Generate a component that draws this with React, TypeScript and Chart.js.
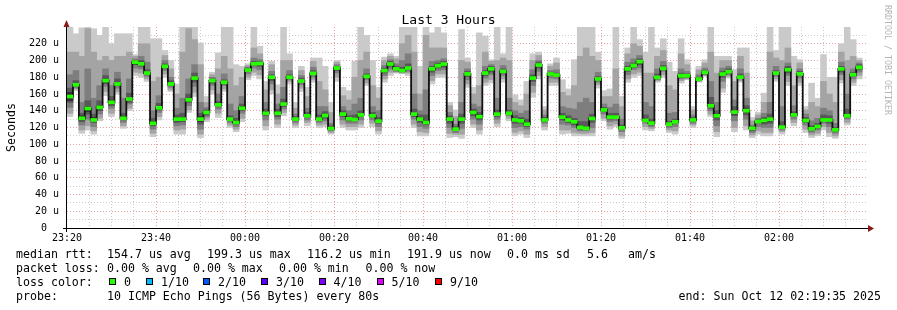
import React, { useEffect, useRef } from 'react';
import { Chart, registerables } from 'chart.js';

Chart.register(...registerables);

// ---- data (80 s steps starting 23:20, values in microseconds) ----
const median = [
  157, 171, 131, 142.7, 129, 144, 176, 150, 172, 131,
  154, 198, 196, 185, 125, 143.5, 193, 172, 130, 130,
  153, 179, 130, 138, 176, 147, 174, 130, 126, 143,
  188.6, 196, 196.5, 137, 180, 137, 148, 180, 130, 175.5,
  134, 184.6, 130, 134.3, 118.8, 191, 136, 130.4, 129.6, 135,
  181, 134, 127.6, 188, 195.8, 190, 188, 191, 136, 130,
  126, 190, 193.8, 195.8, 130, 118, 130, 184, 138, 133,
  185, 190, 136, 187, 137, 129, 128, 124, 179, 194.6,
  129, 183.9, 182.6, 132.4, 129, 126.8, 120, 119, 130.7, 178,
  141, 132.4, 132.4, 119.6, 190, 194, 198.6, 128.4, 125.2, 179.8,
  190.6, 124, 126.8, 181.8, 181.8, 129, 177.8, 185.8, 146, 134,
  183.8, 186.6, 138.4, 180.2, 140, 119, 127, 128.4, 130, 185,
  120.4, 189, 135, 184, 128.4, 118.4, 121.2, 129, 129, 117.2,
  190, 134, 183, 191.7,
];

// sorted ping RTTs per step (ping1 = fastest ... ping10 = slowest)
const ping1 = [
  133, 164, 113, 117, 112, 128, 158, 133, 160, 119,
  140, 182, 180, 175, 109, 129, 180, 163, 112, 112,
  138, 157, 108, 127, 160, 132, 163, 120, 115, 127,
  177, 182, 178, 117, 160, 120, 134, 172, 120, 163,
  122, 174, 120, 121, 112, 175, 120, 117, 117, 120,
  170, 121, 112, 174, 182, 185, 184, 182, 120, 110,
  110, 172, 180, 180, 108, 109, 107, 168, 120, 112,
  170, 173, 121, 174, 128, 110, 112, 108, 156, 178,
  117, 170, 170, 112, 113, 110, 110, 110, 110, 167,
  128, 118, 121, 107, 174, 180, 182, 117, 116, 174,
  180, 114, 112, 173, 177, 120, 174, 181, 133, 109,
  162, 179, 115, 174, 117, 108, 112, 110, 110, 175,
  112, 170, 122, 170, 114, 108, 110, 117, 109, 107,
  173, 123, 170, 178,
];
const ping2 = [
  137, 166, 117, 122, 116, 131, 163, 137, 163, 122,
  143, 186, 185, 178, 113, 133, 184, 165, 117, 118,
  141, 162, 112, 130, 165, 137, 166, 123, 118, 131,
  180, 186, 183, 122, 165, 124, 138, 175, 123, 167,
  126, 177, 123, 124, 114, 180, 124, 121, 121, 124,
  173, 125, 116, 178, 186, 186, 185, 185, 124, 115,
  114, 176, 184, 184, 113, 112, 112, 172, 124, 117,
  174, 177, 125, 178, 131, 114, 116, 112, 162, 182,
  121, 174, 174, 117, 117, 114, 113, 113, 114, 171,
  131, 122, 124, 110, 178, 184, 186, 121, 119, 176,
  183, 117, 116, 176, 178, 123, 175, 182, 136, 115,
  167, 181, 120, 176, 122, 111, 116, 114, 114, 178,
  115, 175, 126, 174, 118, 111, 113, 121, 114, 110,
  177, 126, 174, 182,
];
const ping3 = [
  144, 167, 123, 130, 121, 136, 169, 143, 167, 126,
  148, 191, 190, 181, 118, 138, 188, 168, 122, 123,
  146, 169, 118, 133, 170, 142, 170, 126, 121, 137,
  184, 191, 189, 129, 172, 130, 142, 177, 126, 171,
  129, 180, 126, 128, 116, 185, 129, 125, 125, 129,
  177, 129, 121, 182, 190, 187, 186, 187, 130, 121,
  119, 182, 188, 189, 120, 114, 119, 177, 130, 124,
  179, 183, 130, 182, 134, 120, 121, 118, 170, 187,
  125, 179, 178, 124, 123, 120, 116, 116, 120, 174,
  136, 127, 128, 115, 183, 189, 191, 125, 121, 177,
  187, 120, 121, 178, 179, 125, 176, 183, 140, 122,
  175, 183, 128, 178, 130, 114, 121, 120, 120, 181,
  117, 182, 130, 179, 123, 114, 117, 125, 121, 113,
  183, 130, 178, 186,
];
const ping4 = [
  150, 169, 127, 136, 126, 140, 172, 146, 170, 129,
  150, 195, 193, 183, 122, 141, 191, 170, 126, 127,
  150, 174, 124, 135, 173, 145, 172, 128, 124, 140,
  187, 194, 193, 134, 176, 133, 145, 178, 128, 174,
  132, 183, 128, 131, 117, 188, 133, 128, 128, 133,
  179, 132, 125, 185, 193, 188, 187, 189, 133, 126,
  123, 186, 191, 192, 125, 116, 125, 181, 134, 129,
  182, 186, 133, 185, 136, 125, 125, 121, 175, 191,
  127, 182, 181, 129, 126, 123, 118, 118, 126, 176,
  139, 130, 131, 118, 187, 192, 195, 127, 123, 178,
  189, 122, 125, 180, 180, 127, 177, 184, 143, 129,
  180, 185, 134, 179, 135, 116, 125, 124, 125, 183,
  119, 185, 133, 182, 126, 116, 119, 127, 125, 115,
  186, 132, 181, 189,
];
const ping5 = [
  152, 170, 129, 139, 128, 142, 174, 148, 171, 130,
  152, 196, 195, 184, 124, 142, 192, 171, 128, 128,
  151, 177, 127, 137, 175, 146, 173, 129, 125, 142,
  188, 195, 195, 136, 178, 135, 146, 179, 129, 175,
  133, 184, 129, 133, 118, 190, 135, 129, 129, 134,
  180, 133, 126, 187, 194, 189, 188, 190, 135, 128,
  125, 188, 193, 194, 128, 117, 128, 183, 136, 131,
  184, 188, 135, 186, 137, 127, 127, 123, 177, 193,
  128, 183, 182, 131, 128, 125, 119, 119, 129, 177,
  140, 131, 132, 119, 189, 193, 197, 128, 124, 179,
  190, 123, 126, 181, 181, 128, 177, 185, 145, 132,
  182, 186, 136, 180, 138, 118, 126, 126, 128, 184,
  120, 187, 134, 183, 127, 118, 120, 128, 127, 116,
  188, 133, 182, 190,
];
const ping6 = [
  162, 172, 134, 145, 132, 146, 178, 152, 174, 133,
  156, 199, 198, 186, 127, 145, 194, 174, 132, 132,
  155, 181, 133, 139, 177, 148, 175, 131, 128, 145,
  190, 197, 198, 139, 181, 139, 150, 181, 131, 177,
  135, 186, 131, 136, 120, 192, 137, 132, 131, 136,
  182, 135, 129, 189, 197, 191, 189, 192, 137, 132,
  128, 191, 195, 197, 131, 119, 132, 185, 140, 135,
  186, 191, 138, 188, 138, 131, 130, 126, 181, 196,
  130, 185, 184, 134, 131, 128, 121, 120, 132, 179,
  142, 134, 134, 121, 191, 195, 200, 130, 126, 181,
  192, 125, 128, 183, 183, 130, 179, 187, 148, 136,
  185, 188, 140, 182, 142, 120, 128, 130, 132, 186,
  121, 191, 136, 185, 130, 120, 122, 131, 131, 118,
  191, 135, 184, 193,
];
const ping7 = [
  167, 176, 137, 152, 136, 152, 182, 157, 178, 137,
  161, 200, 200, 189, 131, 149, 196, 176, 135, 137,
  160, 185, 137, 141, 178, 151, 177, 134, 131, 148,
  191, 199, 199, 142, 183, 142, 154, 183, 133, 179,
  138, 188, 135, 139, 122, 193, 140, 134, 135, 140,
  184, 138, 132, 191, 199, 193, 192, 196, 142, 135,
  135, 193, 197, 199, 134, 121, 136, 187, 142, 138,
  188, 193, 141, 190, 141, 134, 132, 130, 183, 198,
  132, 186, 185, 137, 134, 131, 127, 127, 136, 181,
  144, 137, 137, 123, 193, 197, 202, 135, 130, 184,
  194, 127, 130, 185, 184, 132, 180, 188, 156, 140,
  187, 190, 145, 184, 146, 121, 129, 132, 136, 188,
  127, 193, 139, 187, 132, 122, 125, 135, 134, 120,
  193, 142, 186, 195,
];
const ping8 = [
  183, 188, 150, 190, 155, 170, 190, 170, 186, 155,
  178, 202, 205, 198, 140, 158, 200, 180, 143, 155,
  178, 195, 150, 144, 180, 160, 184, 148, 140, 157,
  192, 203, 201, 150, 187, 148, 168, 188, 136, 182,
  143, 192, 145, 145, 125, 195, 145, 140, 148, 155,
  190, 145, 140, 194, 201, 196, 200, 208, 160, 140,
  165, 199, 200, 202, 138, 124, 150, 190, 148, 145,
  193, 195, 155, 194, 155, 140, 137, 140, 189, 200,
  135, 188, 189, 145, 143, 142, 150, 155, 150, 186,
  148, 144, 148, 130, 198, 202, 206, 150, 145, 190,
  199, 137, 138, 190, 187, 135, 183, 191, 175, 150,
  191, 193, 153, 190, 155, 123, 131, 137, 150, 193,
  145, 197, 146, 190, 136, 128, 131, 143, 140, 125,
  198, 160, 190, 197,
];
const ping9 = [
  210, 210, 205, 238, 210, 200, 205, 200, 205, 205,
  210, 205, 220, 220, 175, 180, 206, 190, 160, 210,
  238, 225, 195, 150, 183, 190, 205, 190, 170, 180,
  194, 215, 208, 165, 195, 160, 200, 200, 143, 188,
  157, 199, 175, 165, 138, 198, 158, 153, 180, 200,
  210, 170, 155, 200, 205, 202, 220, 230, 210, 160,
  230, 215, 215, 215, 146, 133, 200, 198, 160, 170,
  210, 199, 200, 203, 200, 150, 146, 160, 200, 206,
  141, 193, 197, 162, 158, 170, 205, 215, 205, 200,
  157, 157, 190, 145, 208, 220, 217, 185, 185, 205,
  212, 170, 165, 208, 195, 141, 189, 197, 210, 185,
  200, 200, 175, 205, 185, 128, 135, 150, 210, 203,
  200, 215, 170, 197, 141, 150, 145, 175, 160, 150,
  210, 200, 205, 200,
];
const ping10 = [
  240, 232, 239, 240, 238, 230, 240, 220, 232, 232,
  232, 207, 240, 240, 226, 226, 212, 200, 172, 240,
  240, 240, 221, 157, 186, 209, 240, 240, 195, 193,
  196, 240, 217, 175, 199, 171, 240, 208, 150, 193,
  168, 203, 203, 193, 150, 200, 168, 164, 199, 240,
  230, 200, 168, 204, 208, 205, 240, 240, 240, 193,
  240, 233, 240, 233, 150, 141, 237, 203, 168, 233,
  229, 201, 240, 208, 240, 159, 153, 175, 208, 210,
  145, 196, 203, 177, 166, 201, 240, 240, 240, 210,
  164, 166, 240, 157, 215, 240, 225, 210, 240, 215,
  226, 198, 187, 226, 201, 145, 193, 201, 240, 205,
  205, 205, 189, 215, 215, 132, 138, 161, 240, 212,
  240, 240, 205, 201, 145, 173, 155, 207, 180, 180,
  220, 240, 225, 203,
];

const timeTicks = ['23:20', '23:40', '00:00', '00:20', '00:40', '01:00', '01:20', '01:40', '02:00'];
const lossLabels = ['0', '1/10', '2/10', '3/10', '4/10', '5/10', '9/10'];
const lossColors = ['#26ff00', '#00b8ff', '#0059ff', '#5e00ff', '#7e00ff', '#dd00ff', '#ff0000'];
const smokeColors = ['#cacaca', '#a4a4a4', '#7e7e7e', '#585858', '#323232'];

const STEP_MIN = 80 / 60; // minutes per sample
const SPAN_MIN = 180;
const MONO = '"DejaVu Sans Mono", monospace';

const GRID_MINOR = 'rgba(140,140,140,0.45)';
const GRID_MAJOR = 'rgba(215,40,40,0.45)';
const NONE = 'rgba(0,0,0,0)';

const decorPlugin = {
  id: 'decor',
  afterDraw(chart: any) {
    const ctx = chart.ctx as CanvasRenderingContext2D;
    const a = chart.chartArea;
    ctx.save();
    // axes
    ctx.strokeStyle = '#000';
    ctx.lineWidth = 1;
    ctx.beginPath();
    ctx.moveTo(a.left - 4, a.bottom + 0.5);
    ctx.lineTo(a.right + 1, a.bottom + 0.5);
    ctx.moveTo(a.left - 0.5, a.bottom + 4);
    ctx.lineTo(a.left - 0.5, a.top - 1);
    ctx.stroke();
    // arrows
    ctx.fillStyle = '#8b1a1a';
    ctx.beginPath();
    ctx.moveTo(a.right, a.bottom - 3);
    ctx.lineTo(a.right + 6, a.bottom + 0.5);
    ctx.lineTo(a.right, a.bottom + 4);
    ctx.closePath();
    ctx.fill();
    ctx.beginPath();
    ctx.moveTo(a.left - 3.5, a.top);
    ctx.lineTo(a.left - 0.5, a.top - 7);
    ctx.lineTo(a.left + 2.5, a.top);
    ctx.closePath();
    ctx.fill();

    ctx.fillStyle = '#000';
    // title
    ctx.font = `13px ${MONO}`;
    ctx.textAlign = 'center';
    ctx.textBaseline = 'alphabetic';
    ctx.fillText('Last 3 Hours', 448.5, 24);

    // y axis title
    ctx.save();
    ctx.translate(15, 127.5);
    ctx.rotate(-Math.PI / 2);
    ctx.font = `11.6px ${MONO}`;
    ctx.textAlign = 'center';
    ctx.fillText('Seconds', 0, 0);
    ctx.restore();

    // watermark
    ctx.save();
    ctx.translate(885, 5);
    ctx.rotate(Math.PI / 2);
    ctx.font = `8.3px ${MONO}`;
    ctx.fillStyle = '#b4b4b4';
    ctx.textAlign = 'left';
    ctx.fillText('RRDTOOL / TOBI OETIKER', 0, 0);
    ctx.restore();

    // legend
    ctx.font = `11.6px ${MONO}`;
    ctx.textAlign = 'left';
    ctx.fillStyle = '#000';
    const row = (y: number, items: [number, string][]) => {
      for (const [x, t] of items) ctx.fillText(t, x, y);
    };
    row(258, [
      [16, 'median rtt:'], [107, '154.7 us avg'], [207, '199.3 us max'],
      [307, '116.2 us min'], [407, '191.9 us now'], [507, '0.0 ms sd'],
      [587, '5.6'], [628, 'am/s'],
    ]);
    row(272, [
      [16, 'packet loss:'], [107, '0.00 % avg'], [193, '0.00 % max'],
      [279, '0.00 % min'], [365.5, '0.00 % now'],
    ]);
    row(286, [[16, 'loss color:']]);
    const boxX = [109, 146, 203, 261, 319, 377, 435];
    const labX = [124, 161, 218, 276, 333.5, 391.5, 450];
    lossLabels.forEach((lab, k) => {
      ctx.fillStyle = lossColors[k];
      ctx.fillRect(boxX[k], 278, 7, 7);
      ctx.strokeStyle = '#000';
      ctx.strokeRect(boxX[k] + 0.5, 278.5, 6, 6);
      ctx.fillStyle = '#000';
      ctx.fillText(lab, labX[k], 286);
    });
    row(300, [[16, 'probe:'], [107, '10 ICMP Echo Pings (56 Bytes) every 80s']]);
    ctx.textAlign = 'right';
    ctx.fillText('end: Sun Oct 12 02:19:35 2025', 881, 300);
    ctx.restore();
  },
};

export default function App() {
  const canvasRef = useRef<HTMLCanvasElement | null>(null);

  useEffect(() => {
    const canvas = canvasRef.current;
    if (!canvas) return;
    const xs = median.map((_, i) => (i + 0.5) * STEP_MIN);
    const lows = [ping1, ping2, ping3, ping4, ping5];
    const highs = [ping10, ping9, ping8, ping7, ping6];

    const smoke = smokeColors.map((c, k) => ({
      type: 'bar' as const,
      data: xs.map((x, i) => ({ x, y: [lows[k][i], highs[k][i]] })),
      backgroundColor: c,
      borderWidth: 0,
      grouped: false,
      barPercentage: 1,
      categoryPercentage: 1,
      order: 10 - k,
    }));

    const chart = new Chart(canvas, {
      type: 'bar',
      data: {
        datasets: [
          ...smoke,
          {
            type: 'line' as const,
            data: xs.map((x, i) => ({ x, y: median[i] })),
            borderColor: '#111',
            borderWidth: 1.8,
            stepped: 'middle',
            pointRadius: 0,
            fill: false,
            order: 1,
          },
          {
            type: 'bar' as const,
            data: xs.map((x, i) => ({ x, y: [median[i] - 1.8, median[i] + 1.8] })),
            backgroundColor: lossColors[0],
            borderWidth: 0,
            grouped: false,
            barPercentage: 1,
            categoryPercentage: 1,
            order: 0,
          },
        ] as any,
      },
      options: {
        responsive: false,
        animation: false,
        events: [],
        layout: { padding: { left: 0, top: 27, right: 29, bottom: 0 } },
        plugins: {
          legend: { display: false },
          tooltip: { enabled: false },
          title: { display: false },
        },
        scales: {
          x: {
            type: 'linear',
            min: 0,
            max: SPAN_MIN,
            offset: false,
            z: 1,
            afterFit: (s: any) => { s.height = 82; },
            grid: {
              offset: false,
              drawTicks: false,
              lineWidth: 1,
              color: (c: any) => {
                const v = c.tick ? c.tick.value : -1;
                if (v <= 0 || v >= SPAN_MIN) return NONE;
                return v % 20 === 0 ? GRID_MAJOR : GRID_MINOR;
              },
            },
            border: { display: false, dash: [1, 2] },
            ticks: {
              stepSize: 5,
              autoSkip: false,
              maxRotation: 0,
              padding: 4,
              color: '#000',
              font: { family: MONO, size: 10 },
              callback: (v: any) => (v % 20 === 0 && v < SPAN_MIN ? timeTicks[v / 20] : ''),
            },
          },
          y: {
            type: 'linear',
            min: 0,
            max: 240,
            z: 1,
            afterFit: (s: any) => { s.width = 67; },
            grid: {
              drawTicks: false,
              lineWidth: 1,
              color: (c: any) => {
                const v = c.tick ? c.tick.value : -1;
                if (v <= 0 || v >= 240) return NONE;
                return v % 20 === 0 ? GRID_MAJOR : GRID_MINOR;
              },
            },
            border: { display: false, dash: [1, 2] },
            ticks: {
              stepSize: 10,
              autoSkip: false,
              padding: 8,
              color: '#000',
              font: { family: MONO, size: 10 },
              callback: (v: any) => (v === 0 ? '0  ' : v % 20 === 0 && v < 240 ? `${v} u` : ''),
            },
          },
        },
      },
      plugins: [decorPlugin],
    });
    return () => chart.destroy();
  }, []);

  return (
    <div style={{ position: 'absolute', left: 0, top: 0, width: 897, height: 310, background: '#fff' }}>
      <canvas ref={canvasRef} width={897} height={310} style={{ display: 'block' }} />
    </div>
  );
}
